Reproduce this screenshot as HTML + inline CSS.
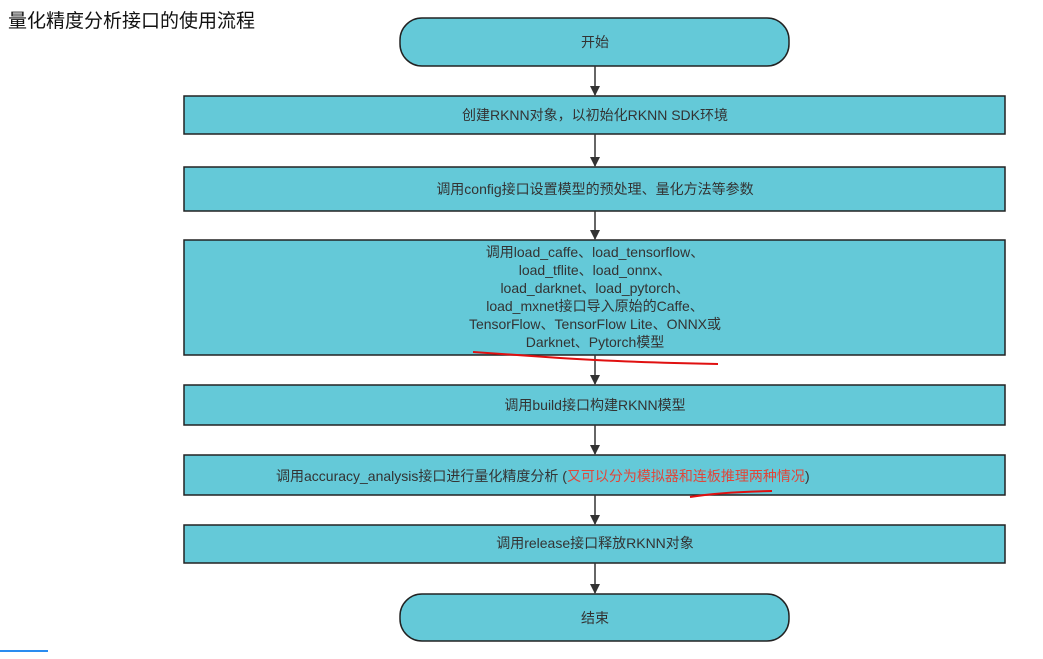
<!DOCTYPE html>
<html><head><meta charset="utf-8"><style>
html,body{margin:0;padding:0;background:#fff;width:1043px;height:659px;overflow:hidden}
svg{display:block}
text{font-family:"Liberation Sans","Noto Sans CJK SC",sans-serif;fill:#333;font-size:14px}
</style></head><body>
<svg width="1043" height="659" viewBox="0 0 1043 659" xmlns="http://www.w3.org/2000/svg">
<defs><marker id="a" markerWidth="10" markerHeight="10" refX="9" refY="5" orient="auto" markerUnits="userSpaceOnUse"><path d="M0,0 L10,5 L0,10 z" fill="#333"/></marker></defs>
<text x="8" y="27" style="font-size:19px;fill:#111">量化精度分析接口的使用流程</text>
<g fill="#64c9d8" stroke="#222" stroke-width="1.5">
<rect x="400" y="18" width="389" height="48" rx="22"/>
<rect x="184" y="96" width="821" height="38"/>
<rect x="184" y="167" width="821" height="44"/>
<rect x="184" y="240" width="821" height="115"/>
<rect x="184" y="385" width="821" height="40"/>
<rect x="184" y="455" width="821" height="40"/>
<rect x="184" y="525" width="821" height="38"/>
<rect x="400" y="594" width="389" height="47" rx="22"/>
</g>
<g stroke="#333" stroke-width="1.5" marker-end="url(#a)">
<line x1="595" y1="66" x2="595" y2="95"/>
<line x1="595" y1="134" x2="595" y2="166"/>
<line x1="595" y1="211" x2="595" y2="239"/>
<line x1="595" y1="355" x2="595" y2="384"/>
<line x1="595" y1="425" x2="595" y2="454"/>
<line x1="595" y1="495" x2="595" y2="524"/>
<line x1="595" y1="563" x2="595" y2="593"/>
</g>
<g text-anchor="middle">
<text x="595" y="47">开始</text>
<text x="595" y="120">创建RKNN对象，以初始化RKNN SDK环境</text>
<text x="595" y="194">调用config接口设置模型的预处理、量化方法等参数</text>
<text x="595" y="257">调用load_caffe、load_tensorflow、</text>
<text x="595" y="275">load_tflite、load_onnx、</text>
<text x="595" y="293">load_darknet、load_pytorch、</text>
<text x="595" y="311">load_mxnet接口导入原始的Caffe、</text>
<text x="595" y="329">TensorFlow、TensorFlow Lite、ONNX或</text>
<text x="595" y="347">Darknet、Pytorch模型</text>
<text x="595" y="410">调用build接口构建RKNN模型</text>
<text x="595" y="548">调用release接口释放RKNN对象</text>
<text x="595" y="623">结束</text>
</g>
<text x="276" y="481">调用accuracy_analysis接口进行量化精度分析 (<tspan style="fill:#e0463a">又可以分为模拟器和连板推理两种情况</tspan>)</text>
<path d="M473,352 Q500,354 560,358 T718,364" stroke="#e01010" stroke-width="2" fill="none"/>
<path d="M690,497 Q720,492 772,491" stroke="#e01010" stroke-width="2" fill="none"/>
<line x1="0" y1="651" x2="48" y2="651" stroke="#2a8cf0" stroke-width="2"/>
</svg>
</body></html>
